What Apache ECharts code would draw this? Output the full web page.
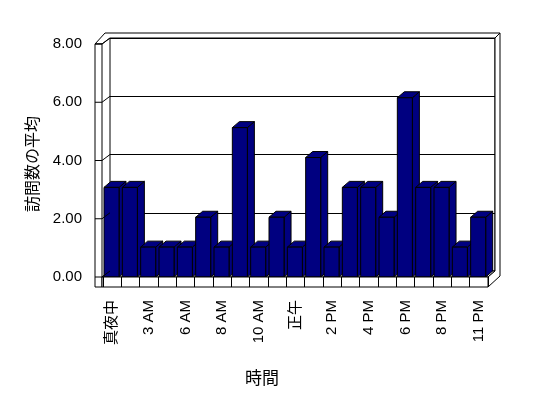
<!DOCTYPE html>
<html>
<head>
<meta charset="utf-8">
<script src="https://cdn.jsdelivr.net/npm/echarts@6/dist/echarts.min.js"></script>
<style>
  html, body { margin: 0; padding: 0; background: #fff; }
  #chart { width: 548px; height: 398px; }
</style>
</head>
<body>
<div id="chart"></div>
<script>
// data
const hours = ['真夜中', '1 AM', '3 AM', '4 AM', '6 AM', '7 AM', '8 AM', '9 AM', '10 AM', '11 AM',
  '正午', '1 PM', '2 PM', '3 PM', '4 PM', '5 PM', '6 PM', '7 PM', '8 PM', '9 PM', '11 PM'];
const visits = [3, 3, 1, 1, 1, 2, 1, 5, 1, 2, 1, 4, 1, 3, 3, 2, 6, 3, 3, 1, 2];
const yTicks = [0, 2, 4, 6, 8];

const font = "'Liberation Sans', 'Noto Sans CJK JP', sans-serif";
const navy = '#000080';
const DX = 7, DY = -6;   // bar top/side offset

// frame layout (pixels)
const FL = 95, FI = 102, BL = 110, OL = 105, BR = 495, OR = 500;
const FT = 44, BT = 38, OT = 33, FB = 277, BB = 271, SB = 287, FR = 488;

const chart = echarts.init(document.getElementById('chart'));

function renderBar(params, api) {
  const i = api.value(0);
  const v = api.value(1);
  const top = api.coord([i, v]);
  const base = api.coord([i, 0]);
  const w = api.size([1, 0])[0];
  const x0 = top[0] - w / 2 + 1;
  const x1 = x0 + w * 0.82;
  const y0 = top[1], y1 = base[1];
  const st = { fill: navy, stroke: '#000', lineWidth: 1 };
  return {
    type: 'group',
    children: [
      { type: 'polygon', shape: { points: [[x1, y0], [x1 + DX, y0 + DY], [x1 + DX, y1 + DY], [x1, y1]] }, style: st },
      { type: 'polygon', shape: { points: [[x0, y0], [x1, y0], [x1 + DX, y0 + DY], [x0 + DX, y0 + DY]] }, style: st },
      { type: 'rect', shape: { x: x0, y: y0, width: x1 - x0, height: y1 - y0 }, style: st }
    ]
  };
}

chart.setOption({
  animation: false,
  backgroundColor: '#fff',
  title: {
    text: '時間', left: 240, top: 366,
    textStyle: { fontFamily: font, fontSize: 17, fontWeight: 'normal', color: '#000' }
  },
  grid: [
    { left: FL, top: FT, width: FR - FL, height: FB - FT },
    { left: BL, top: BT, width: BR - BL, height: BB - BT, show: true,
      backgroundColor: '#fff', borderColor: '#000', borderWidth: 1 },
    { left: 103, top: BT, width: FR - 103, height: FB - BT }
  ],
  xAxis: [
    { gridIndex: 0, type: 'value', min: 0, max: 1, show: false },
    { gridIndex: 1, type: 'value', min: 0, max: 1, show: false },
    {
      gridIndex: 2, type: 'category', data: hours, z: 5,
      axisLine: { show: false },
      axisTick: { show: true, interval: 0, length: 10, lineStyle: { color: '#000' } },
      axisLabel: { interval: 1, rotate: 90, margin: 23, color: '#000', fontFamily: font, fontSize: 15 }
    }
  ],
  yAxis: [
    {
      gridIndex: 0, type: 'value', min: 0, max: 8, interval: 2,
      axisLine: { show: false }, axisTick: { show: false }, splitLine: { show: false },
      axisLabel: { margin: 13, color: '#000', fontFamily: font, fontSize: 15, formatter: v => v.toFixed(2) }
    },
    {
      gridIndex: 1, type: 'value', min: 0, max: 8, interval: 2,
      axisLine: { show: false }, axisTick: { show: false }, axisLabel: { show: false },
      splitLine: { show: true, lineStyle: { color: '#000', width: 1 } }
    },
    { gridIndex: 2, type: 'value', min: 0, max: 8, show: false }
  ],
  series: [{
    type: 'custom',
    xAxisIndex: 2, yAxisIndex: 2,
    renderItem: renderBar,
    data: visits.map((v, i) => [i, v]),
    z: 2
  }]
});

// walls and floor, placed from the axes
const line = { stroke: '#000', lineWidth: 1 };
const wall = { fill: '#fff', stroke: '#000', lineWidth: 1 };
const els = [];
els.push({ type: 'polygon', z: 1, shape: { points: [[FI, FB], [BL, BB], [BR, BB], [FR, FB]] }, style: wall });
els.push({ type: 'polygon', z: 3, shape: { points: [[FL, FT], [OL, OT], [OR, OT], [BR, BT], [BL, BT], [FI, FT]] }, style: wall });
els.push({ type: 'polygon', z: 3, shape: { points: [[BR, BT], [OR, OT], [OR, 276], [FR, SB], [FR, FB], [BR, BB]] }, style: wall });
els.push({ type: 'rect', z: 3, shape: { x: FL, y: FT, width: FI - FL, height: SB - FT }, style: wall });
els.push({ type: 'rect', z: 3, shape: { x: FI, y: FB, width: FR - FI, height: SB - FB }, style: wall });
yTicks.forEach(v => {
  const yF = chart.convertToPixel({ yAxisIndex: 0 }, v);
  const yB = chart.convertToPixel({ yAxisIndex: 1 }, v);
  els.push({ type: 'polyline', z: 4, shape: { points: [[FL, yF], [FI, yF], [BL, yB]] }, style: line });
});
els.push({
  type: 'text', z: 5, x: 34, y: 164, rotation: Math.PI / 2,
  style: { text: '訪問数の平均', font: '16px ' + font, fill: '#000', align: 'center', verticalAlign: 'middle' }
});
chart.setOption({ graphic: els });
</script>
</body>
</html>
